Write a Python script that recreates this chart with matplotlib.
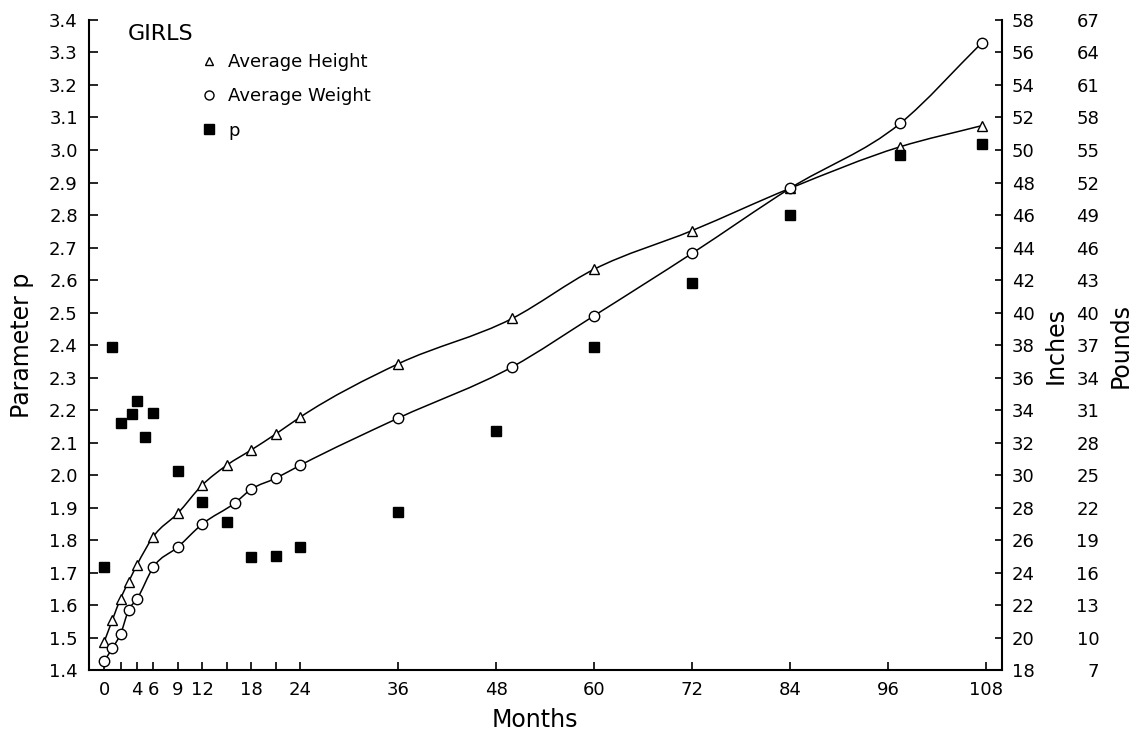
import matplotlib
matplotlib.use('Agg')
import matplotlib.pyplot as plt
from matplotlib.path import Path
from matplotlib.patches import PathPatch
from matplotlib.lines import Line2D
import numpy as np

# --- data (months, parameter p scale) ---
months_hw = [0, 1, 2, 3, 4, 6, 9, 12, 15, 18, 21, 24, 36, 50, 60, 72, 84, 97.5, 107.5]
height_p = [1.487, 1.554, 1.620, 1.672, 1.723, 1.810, 1.882, 1.969, 2.030, 2.077,
            2.126, 2.178, 2.342, 2.482, 2.633, 2.752, 2.882, 3.010, 3.075]

months_w = [0, 1, 2, 3, 4, 6, 9, 12, 16, 18, 21, 24, 36, 50, 60, 72, 84, 97.5, 107.5]
weight_p = [1.428, 1.467, 1.511, 1.585, 1.618, 1.716, 1.778, 1.849, 1.914, 1.956,
            1.990, 2.030, 2.175, 2.333, 2.490, 2.682, 2.882, 3.082, 3.330]

months_p = [0, 1, 2, 3.4, 4, 5, 6, 9, 12, 15, 18, 21, 24, 36, 48, 60, 72, 84, 97.5, 107.5]
param_p = [1.716, 2.395, 2.159, 2.187, 2.228, 2.116, 2.191, 2.013, 1.916, 1.854,
           1.749, 1.752, 1.778, 1.885, 2.136, 2.395, 2.592, 2.799, 2.985, 3.018]

month_ticks = [0, 4, 6, 9, 12, 18, 24, 36, 48, 60, 72, 84, 96, 108]
month_minor = [2, 15, 21]
p_ticks = [1.4, 1.5, 1.6, 1.7, 1.8, 1.9, 2.0, 2.1, 2.2, 2.3, 2.4, 2.5, 2.6, 2.7,
           2.8, 2.9, 3.0, 3.1, 3.2, 3.3, 3.4]
inch_ticks = [18, 20, 22, 24, 26, 28, 30, 32, 34, 36, 38, 40, 42, 44, 46, 48, 50,
              52, 54, 56, 58]
pound_ticks = [7, 10, 13, 16, 19, 22, 25, 28, 31, 34, 37, 40, 43, 46, 49, 52, 55,
               58, 61, 64, 67]

plt.rcParams['font.family'] = ['DejaVu Sans']


def smooth_path(xs, ys):
    # cubic hermite through the points (bezier segments), slopes from neighbours
    x = np.asarray(xs, float)
    y = np.asarray(ys, float)
    h = np.diff(x)
    d = np.diff(y) / h
    m = np.empty_like(y)
    m[0], m[-1] = d[0], d[-1]
    m[1:-1] = (h[:-1] * d[1:] + h[1:] * d[:-1]) / (h[:-1] + h[1:])
    verts = [(x[0], y[0])]
    codes = [Path.MOVETO]
    for i in range(len(x) - 1):
        t = h[i] / 3
        verts += [(x[i] + t, y[i] + m[i] * t), (x[i + 1] - t, y[i + 1] - m[i + 1] * t),
                  (x[i + 1], y[i + 1])]
        codes += [Path.CURVE4] * 3
    return Path(verts, codes)


fig = plt.figure(figsize=(11.39, 7.35), dpi=100)
ax = fig.add_axes([0.0781, 0.0884, 0.8016, 0.8844])

ax.add_patch(PathPatch(smooth_path(months_hw, height_p), fill=False, ec='black', lw=1.1, zorder=2))
ax.add_patch(PathPatch(smooth_path(months_w, weight_p), fill=False, ec='black', lw=1.1, zorder=2))

ax.plot(months_hw, height_p, ls='none', marker='^', ms=7, mfc='white', mec='black', mew=1.0, zorder=3)
ax.plot(months_w, weight_p, ls='none', marker='o', ms=7.5, mfc='white', mec='black', mew=1.0, zorder=3)
ax.plot(months_p, param_p, ls='none', marker='s', ms=7, mfc='black', mec='black', zorder=3)

ax.set_xlim(-1.87, 109.96)
ax.set_ylim(1.4, 3.4)
ax.set_xticks(month_ticks)
ax.set_xticks(month_minor, minor=True)
ax.set_yticks(p_ticks)
ax.set_yticklabels([f'{v:.1f}' for v in p_ticks])

for s in ['top', 'right']:
    ax.spines[s].set_visible(False)
for s in ['left', 'bottom']:
    ax.spines[s].set_linewidth(1.5)

ax.tick_params(axis='both', which='both', direction='in', width=1.2, labelsize=13)
ax.tick_params(axis='y', length=6.5, pad=8)
ax.tick_params(axis='x', which='both', length=5.5, pad=8)

ax.set_xlabel('Months', fontsize=17)
ax.xaxis.set_label_coords(0.4885, -0.058)
ax.set_ylabel('Parameter p', fontsize=17)
ax.yaxis.set_label_coords(-0.06, 0.5)

# right side: inches
ax2 = ax.twinx()
ax2.set_ylim(18, 58)
ax2.set_yticks(inch_ticks)
for s in ['top', 'left', 'bottom']:
    ax2.spines[s].set_visible(False)
ax2.spines['right'].set_linewidth(1.5)
ax2.tick_params(axis='y', direction='in', length=5, width=1.2, pad=7, labelsize=13)
ax2.set_ylabel('Inches', fontsize=17, rotation=90)
ax2.yaxis.set_label_coords(1.046, 0.5)

# right side: pounds
ax3 = ax.twinx()
ax3.set_ylim(7, 67)
ax3.set_yticks(pound_ticks)
for s in ax3.spines.values():
    s.set_visible(False)
ax3.tick_params(axis='y', length=0, pad=70, labelsize=13)
plt.setp(ax3.get_yticklabels(), ha='right')
ax3.set_ylabel('Pounds', fontsize=17, rotation=90)
ax3.yaxis.set_label_coords(1.117, 0.5)

ax.text(0.0427, 0.978, 'GIRLS', transform=ax.transAxes, fontsize=16, va='center', ha='left')

handles = [
    Line2D([], [], ls='none', marker='^', ms=6, mfc='white', mec='black', mew=1.0),
    Line2D([], [], ls='none', marker='o', ms=6.5, mfc='white', mec='black', mew=1.0),
    Line2D([], [], ls='none', marker='s', ms=7, mfc='black', mec='black'),
]
ax.legend(handles, ['Average Height', 'Average Weight', 'p'], loc='upper left',
          bbox_to_anchor=(0.1235, 0.949), frameon=False, fontsize=13,
          handlelength=0.8, handletextpad=0.65, labelspacing=0.9,
          borderpad=0, borderaxespad=0)

fig.savefig('out.png', dpi=100)
